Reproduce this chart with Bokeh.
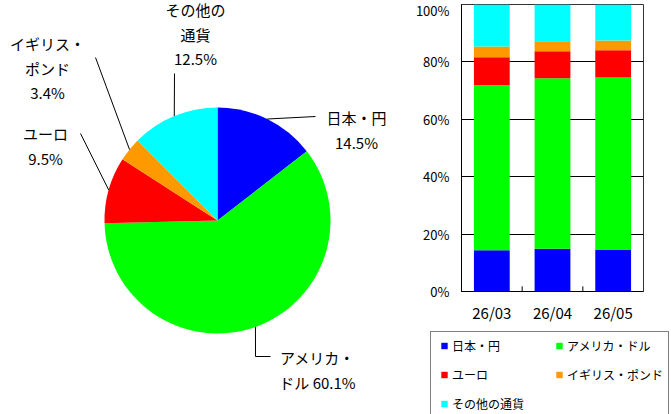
import math
from bokeh.plotting import figure
from bokeh.models import (Range1d, FactorRange, Legend, LegendItem, FixedTicker,
                          PrintfTickFormatter, ColumnDataSource)
from bokeh.core.properties import value
from bokeh.embed import file_html
from bokeh.resources import INLINE

# ---------------- data ----------------
currencies = ["日本・円", "アメリカ・ドル", "ユーロ", "イギリス・ポンド", "その他の通貨"]
colors = ["#0000FF", "#00FF00", "#FF0000", "#FF9900", "#00FFFF"]
pie_values = [14.5, 60.1, 9.5, 3.4, 12.5]
pie_label_templates = ["日本・円\n{}", "アメリカ・\nドル {}", "ユーロ\n{}",
                       "イギリス・\nポンド\n{}", "その他の\n通貨\n{}"]

months = ["26/03", "26/04", "26/05"]
jp = [14.4, 14.9, 14.5]
us = [57.5, 59.4, 60.1]
eu = [9.7, 9.4, 9.5]
uk = [3.8, 3.5, 3.4]
other = [14.6, 12.8, 12.5]
y_ticks = [0, 20, 40, 60, 80, 100]

# ---------------- layout / style ----------------
FONT_NAME = "Noto Sans CJK JP"
FONT = value(FONT_NAME)
PIE_W, PIE_H = 410, 414
BAR_L, BAR_W, BAR_H = 410, 261, 330
LEG_L, LEG_T, LEG_W, LEG_H = 420, 330, 251, 84
CX, CY, R = 217, 220, 113          # pie centre / radius in canvas pixels
LINE_GAP = 24.5
# label anchor (centre of first line) and leader waypoints, canvas pixels
label_layout = [
    dict(x=356, y=117, path=[(315, 116)]),
    dict(x=317, y=357, path=[(255, 356), (270, 356)]),
    dict(x=45, y=133, path=[(80, 133)]),
    dict(x=47, y=43, path=[(95, 57)]),
    dict(x=195, y=9, path=[(174, 73)]),
]

def dy(y):
    return PIE_H - y

def place(left, top):
    return {"position": "absolute", "left": f"{left}px", "top": f"{top}px"}

# ---------------- pie ----------------
pie = figure(width=PIE_W, height=PIE_H, x_range=Range1d(0, PIE_W), y_range=Range1d(0, PIE_H),
             x_axis_location=None, y_axis_location=None, min_border=0,
             output_backend="svg", toolbar_location=None, outline_line_color=None,
             styles=place(0, 0))
pie.grid.visible = False

total = sum(pie_values)
starts, ends, mids = [], [], []
cum = 0.0
for v in pie_values:
    starts.append(math.pi / 2 - 2 * math.pi * cum / total)
    ends.append(math.pi / 2 - 2 * math.pi * (cum + v) / total)
    mids.append(2 * math.pi * (cum + v / 2) / total)
    cum += v

pie.wedge(x=CX, y=dy(CY), radius=R, start_angle=starts, end_angle=ends,
          direction="clock", fill_color=colors, line_color=None)

xs, ys = [], []
for m, lay in zip(mids, label_layout):
    ex = CX + R * math.sin(m)
    ey = CY - R * math.cos(m)
    xs.append([ex] + [p[0] for p in lay["path"]])
    ys.append([dy(ey)] + [dy(p[1]) for p in lay["path"]])
pie.multi_line(xs=xs, ys=ys, line_color="black", line_width=1)

tx, ty, tt = [], [], []
for v, tmpl, lay in zip(pie_values, pie_label_templates, label_layout):
    for i, line in enumerate(tmpl.format(f"{v}%").split("\n")):
        tx.append(lay["x"])
        ty.append(dy(lay["y"] + i * LINE_GAP))
        tt.append(line)
pie.text(x=tx, y=ty, text=tt, text_align="center", text_baseline="middle",
         text_font=FONT, text_font_size="15px", text_color="#000000")

# ---------------- stacked bars ----------------
keys = ["jp", "us", "eu", "uk", "other"]
src = ColumnDataSource(dict(month=months, jp=jp, us=us, eu=eu, uk=uk, other=other))

bp = figure(x_range=FactorRange(*months, range_padding=0), y_range=Range1d(0, 100),
            width=BAR_W, height=BAR_H, min_border_left=51, min_border_right=28,
            min_border_top=4, min_border_bottom=39,
            output_backend="svg", toolbar_location=None, styles=place(BAR_L, 0))
bp.vbar_stack(keys, x="month", width=0.59, source=src, fill_color=colors, line_color=None)

bounds = list(range(1, len(months)))
bp.segment(x0=bounds, y0=0, x1=bounds, y1=1.8, line_color="black", line_width=1)

bp.xgrid.visible = False
bp.ygrid.ticker = FixedTicker(ticks=y_ticks)
bp.ygrid.grid_line_color = "black"
bp.ygrid.grid_line_width = 1
bp.outline_line_color = "#333333"
bp.outline_line_width = 1

bp.yaxis.ticker = FixedTicker(ticks=y_ticks)
bp.yaxis.formatter = PrintfTickFormatter(format="%d%%")
for ax in (bp.xaxis[0], bp.yaxis[0]):
    ax.major_tick_in = 0
    ax.major_tick_out = 0
    ax.minor_tick_in = 0
    ax.minor_tick_out = 0
    ax.axis_line_color = "black"
    ax.axis_line_width = 1
    ax.major_label_text_font = FONT_NAME
    ax.major_label_text_color = "#000000"
bp.yaxis.major_label_text_font_size = "13px"
bp.yaxis.major_label_standoff = 12
bp.xaxis.major_label_text_font_size = "15px"
bp.xaxis.major_label_standoff = 10

# ---------------- legend ----------------
leg = figure(width=LEG_W, height=LEG_H, x_range=Range1d(0, 1), y_range=Range1d(0, 1),
             x_axis_location=None, y_axis_location=None, min_border=0,
             output_backend="svg", toolbar_location=None, outline_line_color=None,
             styles=place(LEG_L, LEG_T))
leg.grid.visible = False
dummies = []
for name, c in zip(currencies, colors):
    # proxy glyph for the legend key, kept outside the visible frame
    r = leg.scatter(x=[-1], y=[-1], marker="square", fill_color=c, line_color=None)
    dummies.append(LegendItem(label=name, renderers=[r]))
order = [0, 2, 4, 1, 3]
legend = Legend(items=[dummies[i] for i in order], location=(10, -4),
                orientation="vertical", nrows=3,
                glyph_width=16, glyph_height=17, label_height=17, label_standoff=0,
                label_width=87, spacing=12, padding=5, margin=0,
                border_line_color="black", border_line_width=1,
                label_text_font=FONT_NAME, label_text_font_size="12px",
                label_text_color="#000000", background_fill_alpha=1.0)
leg.add_layout(legend)

open("out.html", "w").write(file_html([pie, bp, leg], INLINE))
